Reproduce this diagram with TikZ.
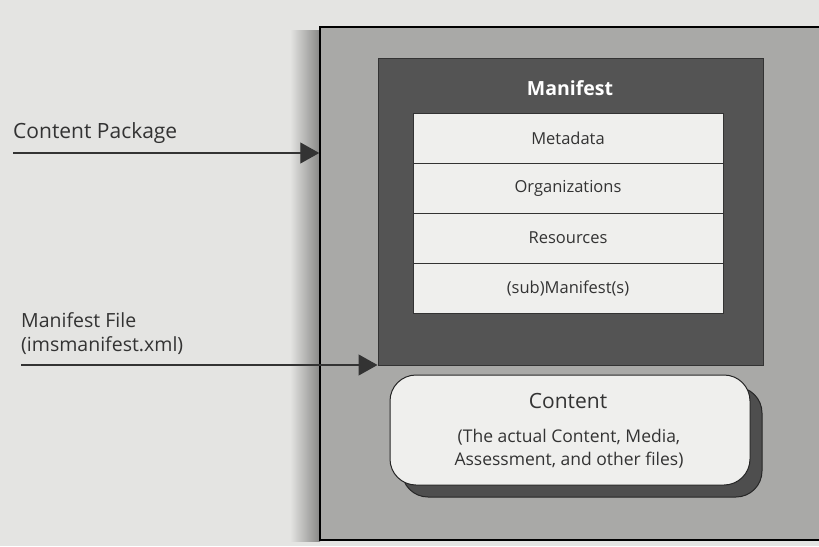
\documentclass[tikz,border=0pt]{standalone}
\usepackage{fontspec}
\setmainfont{Open Sans}
\usetikzlibrary{arrows.meta}
\definecolor{pagebg}{HTML}{E4E4E2}
\definecolor{outerfill}{HTML}{A9A9A7}
\definecolor{darkfill}{HTML}{545454}
\definecolor{cellfill}{HTML}{EFEFED}
\definecolor{shadowfill}{HTML}{4E4E4E}
\definecolor{txt}{HTML}{333333}
\tikzset{
  arr/.style={line width=1.3pt, draw=txt, -{Triangle[length=19pt,width=21pt]}},
  cellbox/.style={draw=txt, line width=0.9pt, fill=cellfill, minimum width=310pt, minimum height=50pt, inner sep=0pt, text=txt, font=\fontsize{16.5}{18}\selectfont},
  lbl/.style={text=txt, anchor=west, inner sep=0pt, font=\fontsize{21}{24}\selectfont, align=left},
}
\begin{document}
\begin{tikzpicture}[x=1pt,y=-1pt]
\useasboundingbox (0,0) rectangle (819,546);
\clip (0,0) rectangle (819,546);
\fill[pagebg] (0,0) rectangle (819,546);
\shade[left color=pagebg, right color=outerfill!80!black] (290,30) rectangle (320,541);
% outer box
\node[draw=black, line width=1.5pt, fill=outerfill, minimum width=540pt, minimum height=513pt, inner sep=0pt] (outer) at (590,283.5) {};
% manifest dark box
\node[draw=black!80, line width=1pt, fill=darkfill, minimum width=385pt, minimum height=307pt, inner sep=0pt] (dark) at (570.5,211.5) {};
\node[text=white, font=\fontsize{19.5}{21}\selectfont\bfseries] (mtitle) at (570,88) {Manifest};
% table rows
\node[cellbox] (meta) at (568,138) {Metadata};
\node[cellbox] (org) at (568,188) {Organizations};
\node[cellbox] (res) at (568,238) {Resources};
\node[cellbox] (sub) at (568,288) {(sub)Manifest(s)};
% content box
\node[draw=black!85, line width=1pt, fill=shadowfill, rounded corners=26pt, minimum width=360pt, minimum height=110pt, inner sep=0pt] (cshadow) at (582,442) {};
\node[draw=black!85, line width=1pt, fill=cellfill, rounded corners=26pt, minimum width=360pt, minimum height=110pt, inner sep=0pt] (content) at (570,430) {};
\node[text=txt, font=\fontsize{21}{24}\selectfont] (ctitle) at (568,401) {Content};
\node[text=txt, font=\fontsize{17.5}{23}\selectfont, align=center] (csub) at (569,449) {(The actual Content, Media,\\Assessment, and other files)};
% labels and arrows
\node[lbl] (cplabel) at (13,133) {Content Package};
\coordinate (cpstart) at (13,153);
\draw[arr] (cpstart) -- (outer.west |- cpstart);
\node[lbl, font=\fontsize{19.5}{24}\selectfont] (mflabel) at (21,334) {Manifest File\\(imsmanifest.xml)};
\coordinate (mfstart) at (21,365);
\draw[arr] (mfstart) -- (dark.west |- mfstart);
\end{tikzpicture}
\end{document}
